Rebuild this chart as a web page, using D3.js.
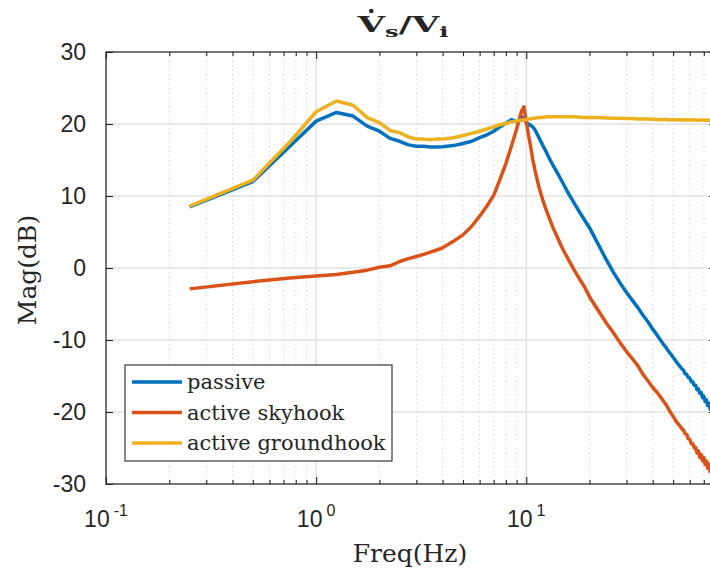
<!DOCTYPE html>
<html>
<head>
<meta charset="utf-8">
<script src="https://cdn.jsdelivr.net/npm/d3@7"></script>
<style>
    body { margin: 0; background: #fff; }
    .tick-label { font-family: "Liberation Sans", Arial, sans-serif; font-size: 23px; fill: #262626; }
    .serif { font-family: "DejaVu Serif", serif; fill: #262626; }
</style>
</head>
<body>
<div id="chart"></div>
<script>

// frequency points (Hz)
let freqHz = [
    0.25, 0.5, 0.75, 1, 1.25, 1.5, 1.75, 2, 2.25, 2.5, 2.75, 3, 3.25, 3.5, 3.75, 4,
    4.5, 5, 5.5, 6, 6.5, 7, 7.5, 8, 8.5, 9, 9.25, 9.5, 9.75, 10, 10.25, 10.5,
    10.75, 11, 11.5, 12, 12.5, 13, 13.5, 14, 14.5, 15, 16, 17, 18, 19, 20, 22,
    24, 26, 28, 30, 32, 34, 36, 38, 40,
    41, 42, 43, 44, 45, 46, 47, 48, 49, 50,
    51, 52, 53, 54, 55, 56, 57, 58, 59, 60,
    61, 62, 63, 64, 65, 66, 67, 68, 69, 70,
    71, 72, 73, 74, 75, 76, 77, 78, 79, 80
];

// magnitudes (dB)
let passiveDb = [
    8.5, 12.0, 16.9, 20.4, 21.6, 21.1, 19.7, 19.0, 18.0, 17.6, 17.1, 16.9, 16.9, 16.8, 16.8, 16.85,
    17.0, 17.3, 17.6, 18.1, 18.5, 19.0, 19.6, 20.1, 20.6, 20.3, 20.5, 21.0, 20.7, 20.2, 20.0, 19.8,
    19.6, 19.2, 18.1, 17.0, 16.0, 15.0, 14.1, 13.3, 12.5, 11.7, 10.2, 8.9, 7.7, 6.6, 5.6, 3.3,
    1.2, -0.6, -2.1, -3.4, -4.5, -5.5, -6.6, -7.5, -8.5,
    -8.9, -9.35, -9.8, -10.2, -10.6, -10.95, -11.35, -11.7, -12.05, -12.4,
    -12.75, -13.1, -13.4, -13.7, -14.0, -14.2, -14.7, -14.75, -15.2, -15.3,
    -15.8, -15.8, -16.3, -16.3, -16.9, -16.8, -17.4, -17.3, -18.0, -17.8,
    -18.5, -18.3, -19.1, -18.8, -19.6, -19.2, -20.1, -19.6, -20.5, -20.0
];

let skyhookDb = [
    -2.9, -1.9, -1.4, -1.1, -0.9, -0.6, -0.3, 0.1, 0.3, 0.9, 1.3, 1.6, 1.9, 2.2, 2.5, 2.8,
    3.7, 4.6, 5.8, 7.2, 8.6, 10.1, 12.3, 14.5, 16.9, 19.3, 20.6, 21.8, 22.4, 20.3, 18.5, 16.8,
    15.0, 13.6, 11.2, 9.4, 7.9, 6.6, 5.4, 4.4, 3.4, 2.5, 1.0, -0.4, -1.6, -2.7, -4.0, -5.9,
    -7.6, -9.0, -10.4, -11.6, -12.6, -13.6, -14.8, -15.7, -16.6,
    -16.95, -17.3, -17.7, -18.1, -18.5, -18.9, -19.3, -19.8, -20.2, -20.6,
    -21.0, -21.4, -21.7, -22.0, -22.3, -22.5, -23.0, -23.1, -23.7, -23.8,
    -24.4, -24.4, -25.0, -24.9, -25.7, -25.4, -26.3, -25.9, -26.8, -26.3,
    -27.3, -26.8, -27.8, -27.2, -28.3, -27.6, -28.7, -28.0, -29.1, -28.4
];

let groundhookDb = [
    8.6, 12.2, 17.5, 21.7, 23.2, 22.6, 20.9, 20.2, 19.1, 18.8, 18.2, 17.9, 17.9, 17.8, 17.9, 17.9,
    18.1, 18.4, 18.7, 19.0, 19.3, 19.6, 19.9, 20.1, 20.3, 20.4, 20.5, 20.5, 20.6, 20.6, 20.7, 20.7,
    20.8, 20.8, 20.9, 20.9, 21.0, 21.0, 21.0, 21.0, 21.0, 21.0, 21.0, 21.0, 20.95, 20.9, 20.9, 20.9,
    20.85, 20.8, 20.8, 20.75, 20.75, 20.7, 20.7, 20.7, 20.65,
    20.65, 20.6, 20.65, 20.6, 20.6, 20.65, 20.6, 20.55, 20.6, 20.6,
    20.55, 20.6, 20.6, 20.55, 20.6, 20.55, 20.6, 20.55, 20.55, 20.6,
    20.55, 20.55, 20.6, 20.55, 20.5, 20.55, 20.55, 20.5, 20.55, 20.55,
    20.5, 20.55, 20.5, 20.55, 20.5, 20.5, 20.55, 20.5, 20.5, 20.55
];

let seriesNames = ["passive", "active skyhook", "active groundhook"];
let seriesColors = ["#0072BD", "#D95319", "#EDB120"];

let yTicks = [-30, -20, -10, 0, 10, 20, 30];
let xDecades = [0.1, 1, 10];
let xDecadeExp = ["-1", "0", "1"];
let xMinor = [0.2, 0.3, 0.4, 0.5, 0.6, 0.7, 0.8, 0.9, 2, 3, 4, 5, 6, 7, 8, 9, 20, 30, 40, 50, 60, 70, 80];


class BodeChart {

    constructor(_parentElement, _series) {
        this.parentElement = _parentElement;
        this.series = _series;
        this.initVis();
    }

    initVis() {
        let vis = this;

        vis.margin = { top: 52, left: 106 };
        vis.width = 610;   // right edge runs just past the window, like the reference
        vis.height = 432;

        vis.svg = d3.select("#" + vis.parentElement).append("svg")
            .attr("width", 710)
            .attr("height", 572);

        vis.g = vis.svg.append("g")
            .attr("transform", "translate(" + vis.margin.left + "," + vis.margin.top + ")");

        vis.x = d3.scaleLog().domain([0.1, 80]).range([0, vis.width]);
        vis.y = d3.scaleLinear().domain([-30, 30]).range([vis.height, 0]);

        vis.svg.append("clipPath").attr("id", "plot-clip")
            .append("rect")
            .attr("width", vis.width)
            .attr("height", vis.height);

        // grid
        vis.g.selectAll(".minor-grid").data(xMinor).enter().append("line")
            .attr("class", "minor-grid")
            .attr("x1", d => vis.x(d)).attr("x2", d => vis.x(d))
            .attr("y1", 0).attr("y2", vis.height)
            .attr("stroke", "#c4c4c4")
            .attr("stroke-width", 1)
            .attr("stroke-dasharray", "1,3.5");

        vis.g.selectAll(".major-xgrid").data(xDecades).enter().append("line")
            .attr("class", "major-xgrid")
            .attr("x1", d => vis.x(d)).attr("x2", d => vis.x(d))
            .attr("y1", 0).attr("y2", vis.height)
            .attr("stroke", "#e2e2e2")
            .attr("stroke-width", 1.5);

        vis.g.selectAll(".major-ygrid").data(yTicks).enter().append("line")
            .attr("class", "major-ygrid")
            .attr("x1", 0).attr("x2", vis.width)
            .attr("y1", d => vis.y(d)).attr("y2", d => vis.y(d))
            .attr("stroke", "#e2e2e2")
            .attr("stroke-width", 1.5);

        vis.lineGroup = vis.g.append("g").attr("clip-path", "url(#plot-clip)");

        vis.line = d3.line()
            .x(d => vis.x(d.f))
            .y(d => vis.y(d.v));

        // axes (ticks pointing inward)
        let axisStyle = sel => {
            sel.select(".domain").remove();
            sel.selectAll(".tick line").attr("stroke", "#262626").attr("stroke-width", 1.1);
        };

        vis.g.append("g").attr("transform", "translate(0," + vis.height + ")")
            .call(d3.axisBottom(vis.x).tickValues(xDecades).tickSize(-7).tickFormat(""))
            .call(axisStyle);
        vis.g.append("g").attr("transform", "translate(0," + vis.height + ")")
            .call(d3.axisBottom(vis.x).tickValues(xMinor).tickSize(-4).tickFormat(""))
            .call(axisStyle);
        vis.g.append("g")
            .call(d3.axisTop(vis.x).tickValues(xDecades).tickSize(-7).tickFormat(""))
            .call(axisStyle);
        vis.g.append("g")
            .call(d3.axisTop(vis.x).tickValues(xMinor).tickSize(-4).tickFormat(""))
            .call(axisStyle);
        vis.g.append("g")
            .call(d3.axisLeft(vis.y).tickValues(yTicks).tickSize(-7).tickFormat(""))
            .call(axisStyle);
        vis.g.append("g").attr("transform", "translate(" + vis.width + ",0)")
            .call(d3.axisRight(vis.y).tickValues(yTicks).tickSize(-7).tickFormat(""))
            .call(axisStyle);

        vis.g.append("rect")
            .attr("width", vis.width)
            .attr("height", vis.height)
            .attr("fill", "none")
            .attr("stroke", "#262626")
            .attr("stroke-width", 1.2);

        // tick labels
        vis.g.selectAll(".ylab").data(yTicks).enter().append("text")
            .attr("class", "tick-label")
            .attr("x", -20)
            .attr("y", d => vis.y(d))
            .attr("dy", "0.36em")
            .attr("text-anchor", "end")
            .text(d => d);

        let xl = vis.g.selectAll(".xlab").data(xDecades).enter().append("text")
            .attr("class", "tick-label")
            .attr("x", d => vis.x(d))
            .attr("y", vis.height + 43)
            .attr("text-anchor", "middle");
        xl.append("tspan").text("10");
        xl.append("tspan")
            .attr("dx", 4)
            .attr("dy", -11)
            .style("font-size", "16px")
            .text((d, i) => xDecadeExp[i]);

        // title: V-dot_s / V_i, stretched a bit to match the wide bold math font
        let titleG = vis.svg.append("g");
        let title = titleG.append("text")
            .attr("class", "serif")
            .attr("x", 0).attr("y", 0)
            .style("font-size", "22px")
            .style("font-weight", "bold");
        title.append("tspan").text("V");
        title.append("tspan").attr("dy", 5).style("font-size", "15px").text("s");
        title.append("tspan").attr("dy", -5).text("/V");
        title.append("tspan").attr("dy", 5).style("font-size", "15px").text("i");
        let tb = title.node().getBBox();
        let sx = 93 / tb.width;
        let tx = 404 - tb.width * sx / 2;
        titleG.attr("transform", "translate(" + tx + ",32) scale(" + sx + ",1)");
        let v0 = title.node().getStartPositionOfChar(0).x;
        let v1 = title.node().getEndPositionOfChar(0).x;
        vis.svg.append("circle")
            .attr("cx", tx + sx * (v0 + v1) / 2)
            .attr("cy", 11)
            .attr("r", 2.3)
            .attr("fill", "#262626");

        vis.svg.append("text")
            .attr("class", "serif")
            .attr("x", 410).attr("y", 562)
            .attr("text-anchor", "middle")
            .style("font-size", "25px")
            .text("Freq(Hz)");

        vis.svg.append("text")
            .attr("class", "serif")
            .attr("transform", "translate(36,270) rotate(-90)")
            .attr("text-anchor", "middle")
            .style("font-size", "25px")
            .text("Mag(dB)");

        // legend
        vis.legend = vis.svg.append("g").attr("transform", "translate(125,365)");
        vis.legend.append("rect")
            .attr("width", 267).attr("height", 96)
            .attr("fill", "#fff")
            .attr("stroke", "#262626")
            .attr("stroke-width", 1.1);

        vis.wrangleData();
    }

    wrangleData() {
        let vis = this;

        vis.displayData = vis.series.map((vals, i) => ({
            name: seriesNames[i],
            color: seriesColors[i],
            values: freqHz.map((f, j) => ({ f: f, v: vals[j] }))
        }));

        vis.updateVis();
    }

    updateVis() {
        let vis = this;

        vis.lineGroup.selectAll(".series").data(vis.displayData).enter().append("path")
            .attr("class", "series")
            .attr("d", d => vis.line(d.values))
            .attr("fill", "none")
            .attr("stroke", d => d.color)
            .attr("stroke-width", 3.5)
            .attr("stroke-linejoin", "round");

        let items = vis.legend.selectAll(".item").data(vis.displayData).enter().append("g")
            .attr("class", "item")
            .attr("transform", (d, i) => "translate(0," + (17 + i * 30.5) + ")");
        items.append("line")
            .attr("x1", 7).attr("x2", 57)
            .attr("stroke", d => d.color)
            .attr("stroke-width", 3.5);
        items.append("text")
            .attr("class", "serif")
            .attr("x", 62).attr("y", 7)
            .style("font-size", "21px")
            .text(d => d.name);
    }
}

let chart = new BodeChart("chart", [passiveDb, skyhookDb, groundhookDb]);

</script>
</body>
</html>
